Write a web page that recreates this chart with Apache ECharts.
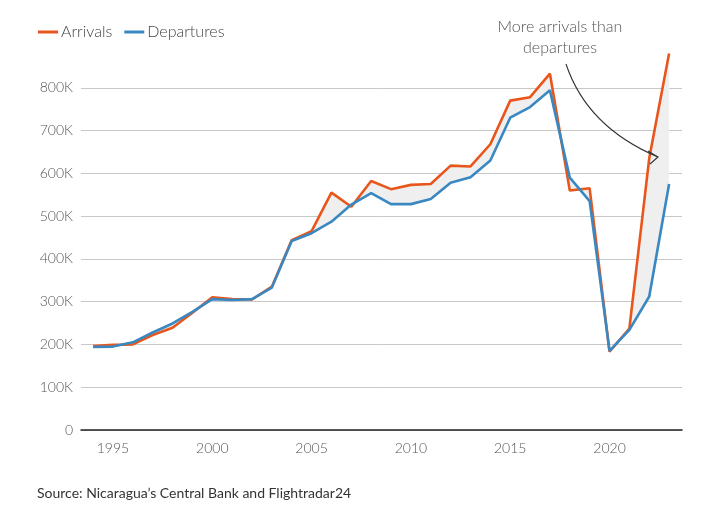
<!DOCTYPE html>
<html><head><meta charset="utf-8">
<script src="https://cdn.jsdelivr.net/npm/echarts@6/dist/echarts.min.js"></script>
<style>html,body{margin:0;padding:0;background:#fff}#c{width:721px;height:510px}</style>
</head><body><div id="c"></div>
<script>
var years = [1994,1995,1996,1997,1998,1999,2000,2001,2002,2003,2004,2005,2006,2007,2008,2009,2010,2011,2012,2013,2014,2015,2016,2017,2018,2019,2020,2021,2022,2023];
var arrivals = [196000,199000,200000,222000,239000,274000,310000,306000,305000,335000,444000,465000,555000,522000,582000,563000,573000,575000,618000,616000,668000,770000,778000,833000,560000,565000,183000,237000,635000,880000];
var departures = [194000,195000,205000,228000,249000,276000,306000,304000,306000,333000,442000,460000,487000,527000,554000,528000,528000,540000,578000,591000,630000,730000,755000,794000,590000,535000,185000,234000,312000,575000];
var yTicks = [0,100000,200000,300000,400000,500000,600000,700000,800000];
var xTickYears = [1995,2000,2005,2010,2015,2020];
var seriesNames = ['Arrivals','Departures'];
var annotation = ['More arrivals than','departures'];
var sourceText = 'Source: Nicaragua\u2019s Central Bank and Flightradar24';

var FONT = 'Lato, "Open Sans", sans-serif';
var ORANGE = '#e8561c', BLUE = '#3a88c2';
var chart = echarts.init(document.getElementById('c'), null, {renderer:'canvas'});

var bandData = years.map(function(y,i){return [y, arrivals[i], departures[i]];});

chart.setOption({
  animation:false,
  textStyle:{fontFamily:FONT},
  legend:{
    left:33, top:19, icon:'rect', itemWidth:20, itemHeight:3, itemGap:12,
    textStyle:{fontSize:16, color:'#444', fontFamily:FONT, fontWeight:300, padding:[0,0,0,-2]},
    data:seriesNames
  },
  grid:{left:81, right:39, top:45, bottom:80},
  xAxis:{
    type:'value', min:1993.39, max:2023.65, splitNumber:6, minInterval:5,
    axisLine:{show:true, onZero:false, lineStyle:{color:'#222', width:1.5}},
    axisTick:{show:false}, splitLine:{show:false},
    axisLabel:{margin:11, fontSize:14, color:'#555', fontFamily:FONT, fontWeight:300,
      showMinLabel:false, showMaxLabel:false,
      formatter:function(v){ return xTickYears.indexOf(Math.round(v*1000)/1000)>=0 ? String(v) : ''; }}
  },
  yAxis:{
    type:'value', min:0, max:900000, interval:100000,
    axisLine:{show:false}, axisTick:{show:false},
    splitLine:{show:true, showMaxLine:false, lineStyle:{color:'#c8c8c8', width:1}},
    axisLabel:{margin:8, fontSize:14, color:'#555', fontFamily:FONT, fontWeight:300, showMaxLabel:false,
      formatter:function(v){ if(yTicks.indexOf(v)<0) return ''; return v===0?'0':(v/1000)+'K'; }}
  },
  series:[
    {
      type:'custom', name:'band', silent:true, z:1,
      data:bandData,
      renderItem:function(params, api){
        if(params.dataIndex!==0) return null;
        var pts=[], i;
        for(i=0;i<years.length;i++) pts.push(api.coord([years[i], arrivals[i]]));
        for(i=years.length-1;i>=0;i--) pts.push(api.coord([years[i], departures[i]]));
        return {type:'polygon', shape:{points:pts}, style:{fill:'#efefef', stroke:null}};
      }
    },
    {name:seriesNames[0], type:'line', z:3, symbol:'none', color:ORANGE,
     lineStyle:{width:2.6, color:ORANGE},
     data:years.map(function(y,i){return [y, arrivals[i]];})},
    {name:seriesNames[1], type:'line', z:4, symbol:'none', color:BLUE,
     lineStyle:{width:2.6, color:BLUE},
     data:years.map(function(y,i){return [y, departures[i]];})}
  ],
  graphic:[
    {type:'text', z:100, x:560, y:27, style:{text:annotation[0], align:'center', verticalAlign:'middle', font:'300 16px '+FONT, fill:'#555'}},
    {type:'text', z:100, x:560, y:48, style:{text:annotation[1], align:'center', verticalAlign:'middle', font:'300 16px '+FONT, fill:'#555'}},
    {type:'bezierCurve', z:100, shape:{x1:566, y1:64, cpx1:587, cpy1:127, x2:658, y2:157}, style:{stroke:'#333', lineWidth:1.1, fill:null}},
    {type:'polyline', z:100, shape:{points:[[648,151],[658,157],[650,164]]}, style:{stroke:'#333', lineWidth:1.1, fill:null}},
    {type:'text', z:100, x:37, y:493, style:{text:sourceText, verticalAlign:'middle', font:'14px '+FONT, fill:'#333'}}
  ]
});
</script></body></html>
